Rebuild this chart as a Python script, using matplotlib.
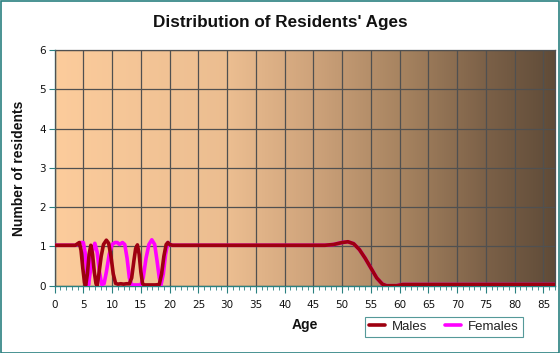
import numpy as np
import matplotlib
matplotlib.use("Agg")
import matplotlib.pyplot as plt
from matplotlib.colors import LinearSegmentedColormap
from matplotlib.patches import Rectangle

# curve readings (age, number of residents)
male_age = [0, 3.6, 4.0, 4.3, 4.6, 4.9, 5.2, 5.4, 5.7, 6.0, 6.3, 6.6, 6.9, 7.2, 7.4,
            7.7, 8.1, 8.5, 9.0, 9.4, 9.8, 10.2, 10.6, 11.0, 11.5, 12.0, 12.5, 13.0,
            13.4, 13.8, 14.1, 14.4, 14.7, 15.0, 15.3, 15.6, 16.5, 17.5, 18.2, 18.6,
            19.0, 19.4, 19.7, 20.0, 20.5, 47.0, 48.5, 50.0, 51.0, 52.0, 53.0, 54.0,
            55.0, 56.0, 57.0, 57.7, 59.5, 60.5, 87]
male_val = [1.03, 1.03, 1.07, 1.1, 0.9, 0.45, 0.08, 0.0, 0.3, 0.8, 1.03, 0.8, 0.35, 0.05, 0.0,
            0.3, 0.75, 1.05, 1.16, 1.08, 0.75, 0.3, 0.06, 0.04, 0.05, 0.04, 0.05, 0.05,
            0.2, 0.65, 0.95, 1.04, 0.8, 0.35, 0.05, 0.02, 0.02, 0.02, 0.03, 0.3,
            0.75, 1.05, 1.1, 1.05, 1.03, 1.03, 1.05, 1.1, 1.12, 1.07, 0.92, 0.7,
            0.45, 0.2, 0.04, 0.0, 0.0, 0.03, 0.03]

female_age = [0, 3.6, 4.0, 4.5, 5.0, 5.3, 5.6, 5.9, 6.2, 6.6, 7.0, 7.4, 7.8, 8.2, 8.6,
              9.0, 9.5, 10.0, 10.5, 10.9, 11.3, 11.8, 12.2, 12.6, 13.0, 13.4, 14.0,
              15.0, 15.4, 15.9, 16.4, 16.9, 17.4, 17.8, 18.2, 18.5, 18.9, 19.3, 19.7,
              20.0, 20.5, 47.0, 48.5, 50.0, 51.0, 52.0, 53.0, 54.0, 55.0, 56.0, 57.0,
              57.7, 59.5, 60.5, 87]
female_val = [1.03, 1.03, 1.05, 1.1, 1.1, 0.85, 0.35, 0.02, 0.35, 0.9, 1.08, 0.85, 0.35, 0.03, 0.05,
              0.35, 0.8, 1.05, 1.1, 1.1, 1.05, 1.1, 1.05, 0.7, 0.2, 0.02, 0.02,
              0.02, 0.2, 0.7, 1.05, 1.17, 1.05, 0.65, 0.2, 0.02, 0.3, 0.8, 1.1,
              1.05, 1.03, 1.03, 1.05, 1.1, 1.12, 1.07, 0.92, 0.7, 0.45, 0.2, 0.04,
              0.0, 0.0, 0.03, 0.03]

x_ticks = list(range(0, 90, 5))
y_ticks = list(range(0, 7))

fig = plt.figure(figsize=(5.6, 3.53), dpi=100)
fig.patch.set_facecolor("white")
ax = fig.add_axes([0.0975, 0.1906, 0.8935, 0.6674])

# gradient background
bg = LinearSegmentedColormap.from_list(
    "bg", [(0.0, "#fccc9c"), (0.35, "#ebbd90"), (0.52, "#cda27a"),
           (0.7, "#a5825f"), (0.86, "#7c6148"), (1.0, "#5f4b38")])
grad = np.linspace(0, 1, 256).reshape(1, -1)
ax.imshow(grad, cmap=bg, aspect="auto", extent=[0, 87, 0, 6], zorder=0)

ax.set_xlim(0, 87)
ax.set_ylim(0, 6)
ax.set_xticks(x_ticks)
ax.set_xticks(range(0, 88), minor=True)
ax.set_yticks(y_ticks)
ax.grid(True, which="major", color="#505050", linewidth=0.9, zorder=1)
ax.set_axisbelow(False)

ax.plot(female_age, female_val, color="#ff00ff", linewidth=2.6,
        solid_joinstyle="round", solid_capstyle="round", label="Females", zorder=3)
ax.plot(male_age, male_val, color="#9e0010", linewidth=2.6,
        solid_joinstyle="round", solid_capstyle="round", label="Males", zorder=4)

for s in ["top", "right"]:
    ax.spines[s].set_color("#505050")
    ax.spines[s].set_linewidth(0.9)
for s in ["left", "bottom"]:
    ax.spines[s].set_color("#2a8080")
    ax.spines[s].set_linewidth(1.0)

ax.tick_params(axis="both", which="both", colors="#2a8080", labelcolor="#111111",
               labelsize=7.5, direction="out")
ax.tick_params(axis="x", which="major", length=5, pad=5)
ax.tick_params(axis="x", which="minor", length=3)
ax.tick_params(axis="y", length=4, pad=2)

fig.text(0.5, 0.935, "Distribution of Residents' Ages",
         ha="center", va="center", fontsize=12.3, fontweight="bold",
         family="Liberation Sans", color="#111111")
ax.set_xlabel("Age", fontsize=10, fontweight="bold", family="Liberation Sans",
              color="#111111", labelpad=6)
ax.set_ylabel("Number of residents", fontsize=10, fontweight="bold",
              family="Liberation Sans", color="#111111", labelpad=10)

h, l = ax.get_legend_handles_labels()
leg = ax.legend(h[::-1], l[::-1], ncol=2, loc="center", bbox_to_anchor=(0.778, -0.175),
                frameon=True, fancybox=False, handlelength=1.2,
                handletextpad=0.5, columnspacing=1.4, borderpad=0.3,
                prop={"family": "Liberation Sans", "size": 9.5})
leg.get_frame().set_edgecolor("#2a8080")
leg.get_frame().set_facecolor("white")
leg.get_frame().set_linewidth(0.8)
for t in leg.get_texts():
    t.set_color("#222222")

fig.patches.append(Rectangle((0.001, 0.001), 0.997, 0.996, transform=fig.transFigure,
                             fill=False, edgecolor="#2a8080", linewidth=1.2))

fig.savefig("out.png", dpi=100)
